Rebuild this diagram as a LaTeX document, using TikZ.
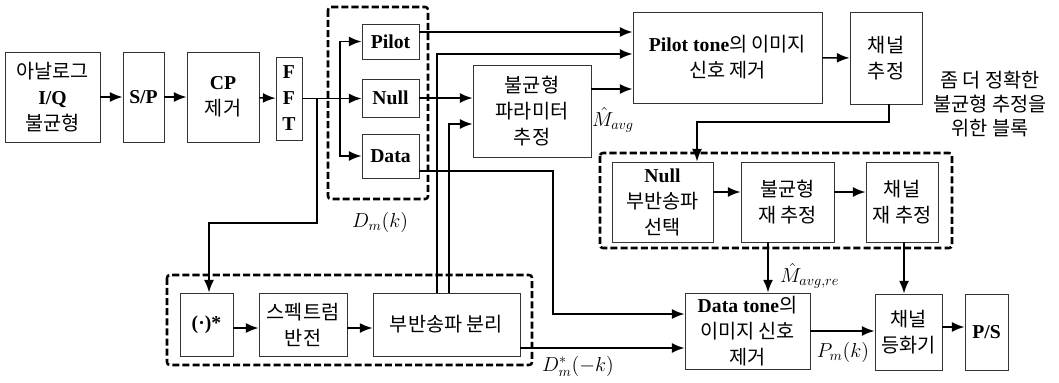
\documentclass[tikz,border=0pt]{standalone}
\usepackage{fontspec}
\setmainfont{Liberation Serif}
\newfontfamily\kr{Noto Sans CJK KR}
\newcommand{\ko}[1]{{\kr\mdseries #1}}
\usetikzlibrary{arrows.meta}

\tikzset{
  blk/.style={draw=black!80, line width=0.6pt, inner sep=0pt, align=center,
    font=\fontsize{14pt}{18.5pt}\selectfont\bfseries},
  grp/.style={draw, line width=1.8pt, dash pattern=on 5pt off 2.2pt, rounded corners=2pt},
  lbl/.style={font=\fontsize{14pt}{17pt}\selectfont, inner sep=1pt},
}

\begin{document}
\begin{tikzpicture}[x=0.025cm, y=-0.025cm, >={Latex[length=9pt,width=7pt]}, line width=1.1pt]
\useasboundingbox (0,0) rectangle (1059,382);
% input chain
\node[blk, minimum width=2.375cm, minimum height=2.25cm] (ana) at (52.5,97) {\ko{아날로그}\\I/Q\\\ko{불균형}};
\node[blk, minimum width=1.025cm, minimum height=2.25cm] (sp) at (143.5,97) {S/P};
\node[blk, minimum width=1.8cm, minimum height=2.25cm] (cp) at (223,97) {CP\\\ko{제거}};
\node[blk, minimum width=0.65cm, minimum height=2.075cm] (fft) at (289,98.5) {F\\F\\T};
% subcarrier groups D_m(k)
\node[blk, minimum width=1.425cm, minimum height=0.875cm] (pilot) at (390.5,41.5) {Pilot};
\node[blk, minimum width=1.425cm, minimum height=0.95cm] (null) at (390.5,98) {Null};
\node[blk, minimum width=1.425cm, minimum height=1.1cm] (data) at (390.5,156) {Data};
\draw[grp] (328,7) rectangle (428,199);
\node[lbl] (dmk) at (380,222) {$D_m(k)$};
% imbalance estimation
\node[blk, minimum width=2.95cm, minimum height=2.3cm] (imb) at (532,111) {\ko{불균형}\\\ko{파라미터}\\\ko{추정}};
\node[blk, minimum width=4.725cm, minimum height=2.275cm] (ptone) at (727.5,57.5) {Pilot tone\ko{의 이미지}\\\ko{신호 제거}};
\node[blk, minimum width=1.8cm, minimum height=2.3cm] (chest) at (886,58) {\ko{채널}\\\ko{추정}};
\node[lbl, align=center] (note) at (990,104) {\ko{좀 더 정확한}\\\ko{불균형 추정을}\\\ko{위한 블록}};
\node[lbl] (mavg) at (613,120) {$\hat{M}_{avg}$};
% re-estimation block
\node[blk, minimum width=2.525cm, minimum height=2cm] (nsel) at (662.5,202) {Null\\\ko{부반송파}\\\ko{선택}};
\node[blk, minimum width=2.325cm, minimum height=2cm] (imbre) at (787.5,202) {\ko{불균형}\\\ko{재 추정}};
\node[blk, minimum width=1.8cm, minimum height=2cm] (chre) at (902,202) {\ko{채널}\\\ko{재 추정}};
\draw[grp] (600,153) rectangle (952,248);
% conjugate branch
\node[blk, minimum width=1.325cm, minimum height=1.575cm] (conj) at (206.5,324.5) {(·)*};
\node[blk, minimum width=2.2cm, minimum height=1.575cm] (spec) at (303,324.5) {\ko{스펙트럼}\\\ko{반전}};
\node[blk, minimum width=3.675cm, minimum height=1.575cm] (sep) at (446.5,324.5) {\ko{부반송파 분리}};
\draw[grp] (167,275) rectangle (532,365);
\node[lbl] (dconj) at (578,366) {$D_m^*(-k)$};
% output chain
\node[blk, minimum width=3.125cm, minimum height=1.9cm] (dtone) at (747.5,331) {Data tone\ko{의}\\\ko{이미지 신호}\\\ko{제거}};
\node[blk, minimum width=1.675cm, minimum height=1.9cm] (eq) at (908.5,332) {\ko{채널}\\\ko{등화기}};
\node[blk, minimum width=1.075cm, minimum height=1.9cm] (ps) at (986.5,332) {P/S};
\node[lbl, right] (mavgre) at (778,276) {$\hat{M}_{avg,re}$};
\node[lbl] (pmk) at (843,352) {$P_m(k)$};
% turning points
\coordinate (tap) at (317,98);
\coordinate (fork) at (340,98);
\coordinate (down) at (209,223);
\coordinate (y1) at (0,32);
\coordinate (y2) at (437,54);
\coordinate (y3) at (449,124);
\coordinate (y4) at (0,89);
\coordinate (dturn) at (553,171);
\coordinate (dlow) at (0,314);
\coordinate (slow) at (0,348);
\coordinate (fbs) at (889,0);
\coordinate (fb) at (697,122);
\coordinate (rowr) at (0,192);
\coordinate (mre) at (768,0);
\coordinate (che) at (904,0);
\coordinate (cy) at (0,328);
\coordinate (psy) at (0,327);
% connectors
\draw[->] (ana) -- (sp);
\draw[->] (sp) -- (cp);
\draw[->] (cp) -- (fft);
\draw[->] (fft.east) -- (fft.east -| null.west);
\draw[->] (fork) |- (pilot.west);
\draw[->] (fork) |- (data.west);
\draw[->] (tap) |- (down) -- (conj.north -| down);
\draw[->] (pilot.east |- y1) -- (ptone.west |- y1);
\draw[->] (sep.north -| y2) |- (ptone.west |- y2);
\draw[->] (sep.north -| y3) |- (imb.west |- y3);
\draw[->] (null.east) -- (null.east -| imb.west);
\draw[->] (imb.east |- y4) -- (ptone.west |- y4);
\draw[->] (data.east |- dturn) -- (dturn) |- (dtone.west |- dlow);
\draw[->] (sep.east |- slow) -- (dtone.west |- slow);
\draw[->] (ptone) -- (chest);
\draw[->] (chest.south -| fbs) |- (fb) -- (nsel.north -| fb);
\draw[->] (nsel.east |- rowr) -- (imbre.west |- rowr);
\draw[->] (imbre.east |- rowr) -- (chre.west |- rowr);
\draw[->] (imbre.south -| mre) -- (dtone.north -| mre);
\draw[->] (chre.south -| che) -- (eq.north -| che);
\draw[->] (dtone.east) -- (dtone.east -| eq.west);
\draw[->] (eq.east |- psy) -- (ps.west |- psy);
\draw[->] (conj.east |- cy) -- (spec.west |- cy);
\draw[->] (spec.east |- cy) -- (sep.west |- cy);
\end{tikzpicture}
\end{document}
